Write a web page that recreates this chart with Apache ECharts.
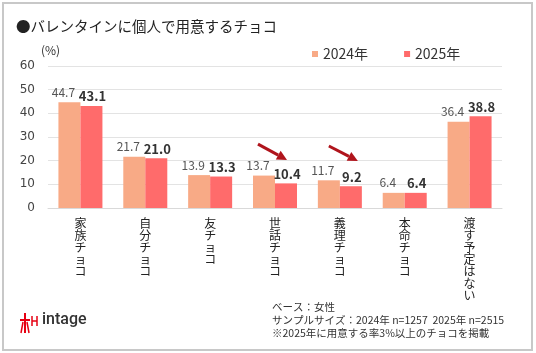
<!DOCTYPE html>
<html lang="ja">
  <head>
    <meta charset="UTF-8" />
    <script src="https://cdn.jsdelivr.net/npm/echarts@6/dist/echarts.min.js"></script>
    <title>バレンタインに個人で用意するチョコ</title>
    <style>
      html,
      body,
      #main {
        width: 100%;
        height: 100%;
        margin: 0;
        padding: 0;
        overflow: hidden;
        background: #fff;
      }
    </style>
  </head>
  <body>
    <div id="main"></div>
    <script>
      const categories = ["家族チョコ", "自分チョコ", "友チョコ", "世話チョコ", "義理チョコ", "本命チョコ", "渡す予定はない"];
      const seriesNames = ["2024年", "2025年"];
      const values2024 = [44.7, 21.7, 13.9, 13.7, 11.7, 6.4, 36.4];
      const values2025 = [43.1, 21.0, 13.3, 10.4, 9.2, 6.4, 38.8];
      const yTicks = [0, 10, 20, 30, 40, 50, 60];
      // 下落を示す矢印: [カテゴリ, 始点dx, 始点値, 終点dx, 終点値]
      const arrows = [
        ["世話チョコ", -17, 27.0, 12, 20.3],
        ["義理チョコ", -11, 26.2, 18, 19.9],
      ];
      const notes = [
        "ベース：女性",
        "サンプルサイズ：2024年 n=1257  2025年 n=2515",
        "※2025年に用意する率3%以上のチョコを掲載",
      ];

      const font = '"Noto Sans CJK JP", "Noto Sans", sans-serif';
      const dom = document.getElementById("main");
      const myChart = echarts.init(dom);

      const option = {
        backgroundColor: "#fff",
        animation: false,
        textStyle: { fontFamily: font },
        title: {
          text: "●バレンタインに個人で用意するチョコ",
          left: 11,
          top: 14,
          textStyle: { fontSize: 14.5, fontWeight: "normal", color: "#222", fontFamily: font },
        },
        legend: {
          data: seriesNames,
          left: 307,
          top: 42,
          icon: "rect",
          itemWidth: 6,
          itemHeight: 6,
          itemGap: 36,
          textStyle: { fontSize: 14, color: "#333", fontFamily: font },
        },
        grid: { left: 48, right: 34, top: 66, bottom: 145 },
        xAxis: {
          type: "category",
          data: categories,
          axisLine: { lineStyle: { color: "#d9d9d9" } },
          axisTick: { show: false },
          axisLabel: {
            interval: 0,
            margin: 9,
            fontSize: 12,
            lineHeight: 12,
            color: "#222",
            verticalAlign: "top",
            formatter: (v) => v.split("").join("\n"),
          },
        },
        yAxis: {
          type: "value",
          name: "(%)",
          nameLocation: "end",
          nameGap: 10,
          nameTextStyle: { fontSize: 12, color: "#333", align: "left", padding: [0, 0, 0, -7] },
          min: yTicks[0],
          max: yTicks[yTicks.length - 1],
          interval: 10,
          axisLine: { show: false },
          axisTick: { show: false },
          axisLabel: { fontSize: 12, color: "#444", margin: 13, fontFamily: '"DejaVu Sans", sans-serif' },
          splitLine: { lineStyle: { color: "#e3e3e3" } },
        },
        series: [
          {
            name: seriesNames[0],
            type: "bar",
            data: values2024,
            barWidth: 22,
            barGap: "0%",
            itemStyle: { color: "#F8AA86" },
            label: {
              show: true,
              position: "top",
              distance: 4,
              offset: [-6, 0],
              fontSize: 12,
              color: "#555",
              formatter: (p) => p.value.toFixed(1),
            },
          },
          {
            name: seriesNames[1],
            type: "bar",
            data: values2025,
            barWidth: 22,
            itemStyle: { color: "#FF6B6B" },
            label: {
              show: true,
              position: "top",
              distance: 3,
              offset: [1, 0],
              fontSize: 13,
              fontWeight: "bold",
              color: "#333",
              formatter: (p) => p.value.toFixed(1),
            },
          },
        ],
      };
      myChart.setOption(option);

      // 矢印・枠・注記・ロゴ
      const graphics = [
        {
          type: "rect",
          shape: { x: 3, y: 3, width: 529, height: 347 },
          style: { fill: "none", stroke: "#c8c8c8", lineWidth: 2 },
          silent: true,
        },
      ];
      arrows.forEach((a) => {
        const cx = myChart.convertToPixel({ xAxisIndex: 0 }, a[0]);
        const y1 = myChart.convertToPixel({ yAxisIndex: 0 }, a[2]);
        const y2 = myChart.convertToPixel({ yAxisIndex: 0 }, a[4]);
        const x1 = cx + a[1];
        const x2 = cx + a[3];
        const ang = Math.atan2(y2 - y1, x2 - x1);
        const hl = 10, hw = 5;
        const bx = x2 - hl * Math.cos(ang);
        const by = y2 - hl * Math.sin(ang);
        const px = -Math.sin(ang), py = Math.cos(ang);
        graphics.push({
          type: "line",
          shape: { x1: x1, y1: y1, x2: bx, y2: by },
          style: { stroke: "#B0141C", lineWidth: 3 },
        });
        graphics.push({
          type: "polygon",
          shape: {
            points: [
              [x2, y2],
              [bx + px * hw, by + py * hw],
              [bx - px * hw, by - py * hw],
            ],
          },
          style: { fill: "#B0141C" },
        });
      });
      notes.forEach((t, i) => {
        graphics.push({
          type: "text",
          left: 272,
          top: 302 + i * 13,
          style: { text: t, fontSize: 10.5, fill: "#333", fontFamily: font },
        });
      });
      // intage ロゴ（簡略）
      const red = "#E60012";
      graphics.push(
        { type: "line", shape: { x1: 25, y1: 313, x2: 25, y2: 333 }, style: { stroke: red, lineWidth: 2 } },
        { type: "line", shape: { x1: 20, y1: 320, x2: 30, y2: 320 }, style: { stroke: red, lineWidth: 2 } },
        { type: "line", shape: { x1: 21, y1: 333, x2: 23, y2: 322 }, style: { stroke: red, lineWidth: 1.5 } },
        { type: "line", shape: { x1: 29, y1: 333, x2: 27, y2: 322 }, style: { stroke: red, lineWidth: 1.5 } },
        { type: "line", shape: { x1: 32, y1: 316, x2: 32, y2: 326 }, style: { stroke: red, lineWidth: 1.5 } },
        { type: "line", shape: { x1: 37, y1: 316, x2: 37, y2: 326 }, style: { stroke: red, lineWidth: 1.5 } },
        { type: "line", shape: { x1: 32, y1: 321, x2: 37, y2: 321 }, style: { stroke: red, lineWidth: 1.5 } },
        {
          type: "text",
          left: 42,
          top: 312,
          style: { text: "intage", fontSize: 16, fontWeight: 500, fill: "#333", fontFamily: "Roboto, sans-serif" },
        }
      );
      myChart.setOption({ graphic: graphics });
    </script>
  </body>
</html>
